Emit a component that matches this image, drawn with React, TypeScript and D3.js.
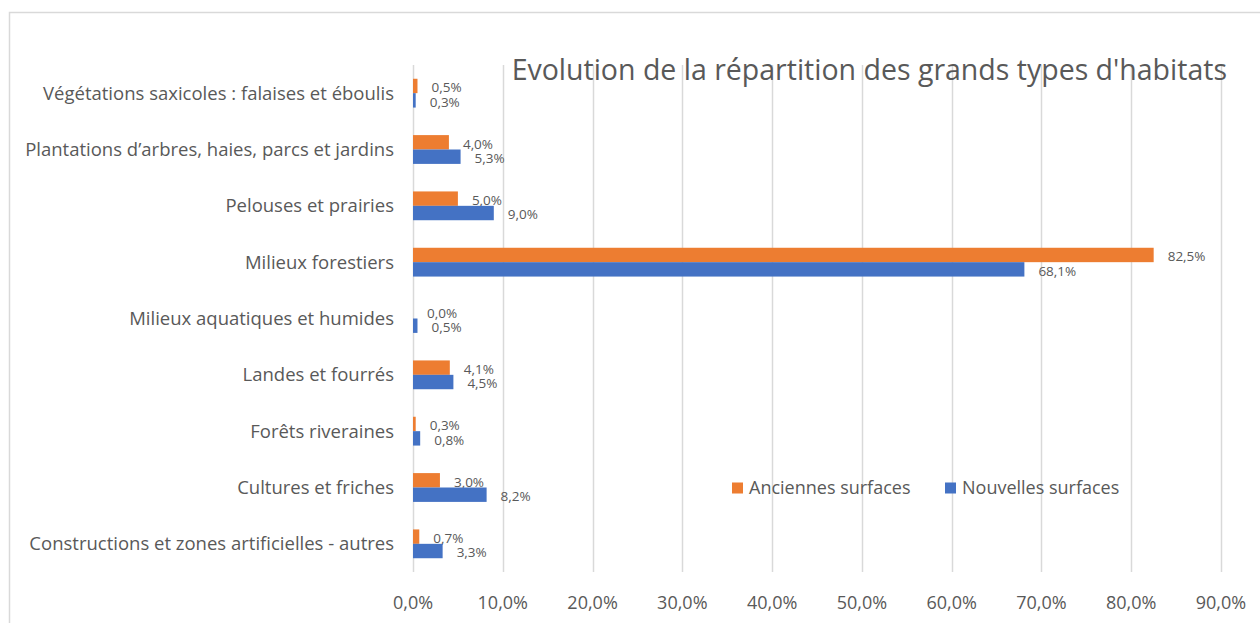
import React, {useRef, useEffect} from "react";
import * as d3 from "d3";

const categories = [
  "Végétations saxicoles : falaises et éboulis",
  "Plantations d’arbres, haies, parcs et jardins",
  "Pelouses et prairies",
  "Milieux forestiers",
  "Milieux aquatiques et humides",
  "Landes et fourrés",
  "Forêts riveraines",
  "Cultures et friches",
  "Constructions et zones artificielles - autres",
];

const anciennes = [0.5, 4.0, 5.0, 82.5, 0.0, 4.1, 0.3, 3.0, 0.7];
const nouvelles = [0.3, 5.3, 9.0, 68.1, 0.5, 4.5, 0.8, 8.2, 3.3];

const seriesNames = ["Anciennes surfaces", "Nouvelles surfaces"];
const seriesColors = ["#ED7D31", "#4472C4"];
const xTicks = [0, 10, 20, 30, 40, 50, 60, 70, 80, 90];

const title = "Evolution de la répartition des grands types d'habitats";

const FONT = "'Open Sans', 'Noto Sans', sans-serif";
const TEXT = "#595959";

const fmt = (v: number) => v.toFixed(1).replace(".", ",") + "%";

export default function App() {
  const svgRef = useRef<SVGSVGElement>(null);

  useEffect(() => {
    if (!svgRef.current) return;
    const W = 1260;
    const H = 623;
    const margin = {top: 65, left: 413, right: 39, bottom: 51};
    const width = W - margin.left - margin.right;
    const height = H - margin.top - margin.bottom;

    const svg = d3.select(svgRef.current);
    svg.selectAll("*").remove();

    // chart border (cut by the window on right/bottom)
    svg
      .append("rect")
      .attr("x", 9.5)
      .attr("y", 12.5)
      .attr("width", W + 10)
      .attr("height", H + 10)
      .attr("fill", "#fff")
      .attr("stroke", "#d9d9d9")
      .attr("stroke-width", 1.5);

    const g = svg
      .append("g")
      .attr("transform", `translate(${margin.left},${margin.top})`);

    const x = d3.scaleLinear().domain([0, 90]).range([0, width]);
    const y = d3
      .scaleBand()
      .domain(categories)
      .range([0, height])
      .paddingInner(0)
      .paddingOuter(0);

    const barH = 14.4;

    // Grid lines
    g.selectAll(".grid")
      .data(xTicks)
      .join("line")
      .attr("class", "grid")
      .attr("x1", (d) => Math.round(x(d)) + 0.5)
      .attr("x2", (d) => Math.round(x(d)) + 0.5)
      .attr("y1", 0)
      .attr("y2", height)
      .attr("stroke", "#d9d9d9")
      .attr("stroke-width", 1.5);

    // Title (drawn over grid)
    g.append("text")
      .attr("x", 1227 - margin.left)
      .attr("y", 80 - margin.top)
      .attr("text-anchor", "end")
      .style("font-family", FONT)
      .style("font-size", "28.5px")
      .style("fill", TEXT)
      .text(title);

    // X tick labels
    g.selectAll(".xtick")
      .data(xTicks)
      .join("text")
      .attr("class", "xtick")
      .attr("x", (d) => x(d))
      .attr("y", height + 37)
      .attr("text-anchor", "middle")
      .style("font-family", FONT)
      .style("font-size", "18px")
      .style("fill", TEXT)
      .text((d) => fmt(d));

    // Category labels
    g.selectAll(".ylab")
      .data(categories)
      .join("text")
      .attr("class", "ylab")
      .attr("x", -19)
      .attr("y", (d) => y(d)! + y.bandwidth() / 2)
      .attr("dy", "0.35em")
      .attr("text-anchor", "end")
      .style("font-family", FONT)
      .style("font-size", "18.5px")
      .style("fill", TEXT)
      .text((d) => d);

    const series = [anciennes, nouvelles];
    series.forEach((vals, si) => {
      const rows = categories.map((c, i) => ({c, v: vals[i]}));
      const yOff = (d) => y(d.c)! + y.bandwidth() / 2 - barH + si * barH;
      g.selectAll(`.bar${si}`)
        .data(rows)
        .join("rect")
        .attr("class", `bar${si}`)
        .attr("x", x(0))
        .attr("y", yOff)
        .attr("width", (d) => x(d.v) - x(0))
        .attr("height", barH)
        .attr("fill", seriesColors[si]);

      g.selectAll(`.lab${si}`)
        .data(rows)
        .join("text")
        .attr("class", `lab${si}`)
        .attr("x", (d) => x(d.v) + 14)
        .attr("y", (d) => yOff(d) + barH / 2 + 1.5)
        .attr("dy", "0.35em")
        .style("font-family", FONT)
        .style("font-size", "13.5px")
        .style("fill", TEXT)
        .text((d) => fmt(d.v));
    });

    // Legend
    const legend = svg.append("g").attr("transform", "translate(732,488)");
    const legX = [0, 213];
    seriesNames.forEach((name, i) => {
      legend
        .append("rect")
        .attr("x", legX[i])
        .attr("y", -5.5)
        .attr("width", 11)
        .attr("height", 11)
        .attr("fill", seriesColors[i]);
      legend
        .append("text")
        .attr("x", legX[i] + 17)
        .attr("y", 0)
        .attr("dy", "0.35em")
        .style("font-family", FONT)
        .style("font-size", "18px")
        .style("fill", TEXT)
        .text(name);
    });
  }, []);

  return (
    <div style={{position: "fixed", left: 0, top: 0, background: "#fff"}}>
      <svg ref={svgRef} width={1260} height={623} />
    </div>
  );
}
